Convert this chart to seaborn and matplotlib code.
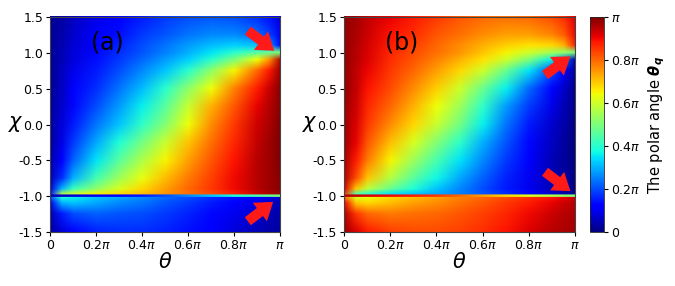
import numpy as np
import matplotlib
matplotlib.use("Agg")
import matplotlib.pyplot as plt
from matplotlib.image import NonUniformImage
import seaborn as sns

# theta in units of pi, chi sample rows, values of theta_q in units of pi
theta = [0, 0.05, 0.1, 0.2, 0.3, 0.4, 0.5, 0.6, 0.7, 0.8, 0.9, 0.95, 1.0]
chi = [1.5, 1.25, 1.1, 1.0, 0.9, 0.75, 0.5, 0.25, 0.0, -0.25, -0.5, -0.75,
       -0.9, -0.975, -0.99, -1.01, -1.025, -1.1, -1.25, -1.5]

theta_q_a = [
    [0.02, 0.035, 0.06, 0.09, 0.12, 0.15, 0.18, 0.20, 0.21, 0.20, 0.17, 0.14, 0.08],
    [0.02, 0.04, 0.07, 0.11, 0.14, 0.18, 0.21, 0.24, 0.26, 0.26, 0.23, 0.19, 0.10],
    [0.02, 0.045, 0.075, 0.12, 0.16, 0.20, 0.24, 0.28, 0.31, 0.33, 0.32, 0.28, 0.12],
    [0.02, 0.05, 0.08, 0.13, 0.17, 0.21, 0.25, 0.30, 0.35, 0.40, 0.45, 0.47, 0.50],
    [0.02, 0.05, 0.085, 0.14, 0.18, 0.23, 0.28, 0.33, 0.40, 0.50, 0.64, 0.75, 0.96],
    [0.02, 0.055, 0.095, 0.15, 0.20, 0.26, 0.32, 0.40, 0.52, 0.65, 0.80, 0.88, 0.98],
    [0.02, 0.06, 0.11, 0.17, 0.24, 0.31, 0.40, 0.52, 0.64, 0.77, 0.88, 0.93, 0.99],
    [0.03, 0.07, 0.13, 0.20, 0.28, 0.36, 0.46, 0.59, 0.72, 0.82, 0.91, 0.95, 0.99],
    [0.03, 0.08, 0.15, 0.24, 0.32, 0.41, 0.51, 0.64, 0.76, 0.85, 0.93, 0.96, 1.00],
    [0.03, 0.09, 0.18, 0.29, 0.39, 0.49, 0.59, 0.70, 0.79, 0.87, 0.94, 0.97, 1.00],
    [0.04, 0.12, 0.22, 0.35, 0.46, 0.56, 0.65, 0.74, 0.82, 0.89, 0.95, 0.97, 1.00],
    [0.05, 0.17, 0.30, 0.43, 0.54, 0.63, 0.71, 0.78, 0.84, 0.90, 0.95, 0.97, 0.99],
    [0.08, 0.30, 0.42, 0.52, 0.61, 0.68, 0.74, 0.80, 0.85, 0.90, 0.95, 0.97, 0.99],
    [0.15, 0.55, 0.60, 0.65, 0.68, 0.71, 0.75, 0.79, 0.83, 0.88, 0.93, 0.96, 0.98],
    [0.05, 0.06, 0.08, 0.10, 0.12, 0.15, 0.20, 0.26, 0.32, 0.38, 0.44, 0.47, 0.50],
    [0.05, 0.06, 0.08, 0.10, 0.12, 0.15, 0.20, 0.26, 0.32, 0.38, 0.44, 0.47, 0.50],
    [0.20, 0.38, 0.36, 0.32, 0.29, 0.26, 0.23, 0.20, 0.17, 0.14, 0.11, 0.09, 0.07],
    [0.10, 0.30, 0.32, 0.29, 0.26, 0.24, 0.21, 0.18, 0.15, 0.12, 0.09, 0.07, 0.05],
    [0.05, 0.15, 0.20, 0.22, 0.21, 0.20, 0.18, 0.16, 0.13, 0.10, 0.07, 0.05, 0.04],
    [0.03, 0.08, 0.12, 0.16, 0.17, 0.17, 0.16, 0.14, 0.11, 0.08, 0.05, 0.04, 0.03],
]

theta_q_b = [
    [0.98, 0.965, 0.94, 0.91, 0.88, 0.85, 0.82, 0.80, 0.79, 0.80, 0.83, 0.86, 0.92],
    [0.98, 0.96, 0.93, 0.89, 0.86, 0.82, 0.79, 0.76, 0.74, 0.74, 0.77, 0.81, 0.90],
    [0.98, 0.955, 0.925, 0.88, 0.84, 0.80, 0.76, 0.72, 0.69, 0.67, 0.68, 0.72, 0.88],
    [0.98, 0.95, 0.92, 0.87, 0.83, 0.79, 0.75, 0.70, 0.65, 0.60, 0.55, 0.53, 0.50],
    [0.98, 0.95, 0.915, 0.86, 0.82, 0.77, 0.72, 0.67, 0.60, 0.50, 0.36, 0.25, 0.04],
    [0.98, 0.945, 0.905, 0.85, 0.80, 0.74, 0.68, 0.60, 0.48, 0.35, 0.20, 0.12, 0.02],
    [0.98, 0.94, 0.89, 0.83, 0.76, 0.69, 0.60, 0.48, 0.36, 0.23, 0.12, 0.07, 0.01],
    [0.97, 0.93, 0.87, 0.80, 0.72, 0.64, 0.54, 0.41, 0.28, 0.18, 0.09, 0.05, 0.01],
    [0.97, 0.92, 0.85, 0.76, 0.68, 0.59, 0.49, 0.36, 0.24, 0.15, 0.07, 0.04, 0.00],
    [0.97, 0.91, 0.82, 0.71, 0.61, 0.51, 0.41, 0.30, 0.21, 0.13, 0.06, 0.03, 0.00],
    [0.96, 0.88, 0.78, 0.65, 0.54, 0.44, 0.35, 0.26, 0.18, 0.11, 0.05, 0.03, 0.00],
    [0.95, 0.83, 0.70, 0.57, 0.46, 0.37, 0.29, 0.22, 0.16, 0.10, 0.05, 0.03, 0.01],
    [0.92, 0.70, 0.58, 0.48, 0.39, 0.32, 0.26, 0.20, 0.15, 0.10, 0.05, 0.03, 0.01],
    [0.85, 0.45, 0.40, 0.35, 0.32, 0.29, 0.25, 0.21, 0.17, 0.12, 0.07, 0.04, 0.02],
    [0.95, 0.94, 0.92, 0.90, 0.88, 0.85, 0.80, 0.74, 0.68, 0.62, 0.56, 0.53, 0.50],
    [0.95, 0.94, 0.92, 0.90, 0.88, 0.85, 0.80, 0.74, 0.68, 0.62, 0.56, 0.53, 0.50],
    [0.80, 0.62, 0.64, 0.68, 0.71, 0.74, 0.77, 0.80, 0.83, 0.86, 0.89, 0.91, 0.93],
    [0.90, 0.70, 0.68, 0.71, 0.74, 0.76, 0.79, 0.82, 0.85, 0.88, 0.91, 0.93, 0.95],
    [0.95, 0.85, 0.80, 0.78, 0.79, 0.80, 0.82, 0.84, 0.87, 0.90, 0.93, 0.95, 0.96],
    [0.97, 0.92, 0.88, 0.84, 0.83, 0.83, 0.84, 0.86, 0.89, 0.92, 0.95, 0.96, 0.97],
]

x_ticks = [0, 0.2, 0.4, 0.6, 0.8, 1.0]
x_labels = ["0", r"0.2$\pi$", r"0.4$\pi$", r"0.6$\pi$", r"0.8$\pi$", r"$\pi$"]
y_ticks = [1.5, 1.0, 0.5, 0.0, -0.5, -1.0, -1.5]
y_labels = ["1.5", "1.0", "0.5", "0.0", "-0.5", "-1.0", "-1.5"]
cb_ticks = [0, 0.2, 0.4, 0.6, 0.8, 1.0]
cb_labels = ["0", r"0.2$\pi$", r"0.4$\pi$", r"0.6$\pi$", r"0.8$\pi$", r"$\pi$"]

sns.set_theme(style="ticks")
plt.rcParams["font.family"] = ["DejaVu Sans"]
plt.rcParams["mathtext.fontset"] = "dejavusans"
plt.rcParams["text.color"] = "black"
plt.rcParams["axes.labelcolor"] = "black"

fig = plt.figure(figsize=(6.75, 2.86), dpi=100)
ax_a = fig.add_axes([50 / 675, 1 - 232 / 286, 230 / 675, 215 / 286])
ax_b = fig.add_axes([344 / 675, 1 - 232 / 286, 231 / 675, 215 / 286])
cax = fig.add_axes([590 / 675, 1 - 232 / 286, 14 / 675, 215 / 286])

# image wants increasing y
chi_up = np.array(chi)[::-1]

panels = [
    (ax_a, theta_q_a, "(a)",
     [((0.86, 1.31), (0.975, 1.03)), ((0.86, -1.35), (0.97, -1.08))]),
    (ax_b, theta_q_b, "(b)",
     [((0.87, 0.69), (0.98, 0.95)), ((0.87, -0.66), (0.98, -0.93))]),
]

for ax, vals, tag, arrows in panels:
    im = NonUniformImage(ax, interpolation="bilinear", cmap="jet",
                         extent=(0, 1, -1.5, 1.5))
    im.set_data(np.array(theta), chi_up, np.array(vals)[::-1])
    im.set_clim(0, 1)
    ax.add_image(im)
    ax.set_xlim(0, 1)
    ax.set_ylim(-1.5, 1.5)
    ax.set_xticks(x_ticks)
    ax.set_xticklabels(x_labels, fontsize=9)
    ax.set_yticks(y_ticks)
    ax.set_yticklabels(y_labels, fontsize=9)
    ax.tick_params(length=3, width=0.8, pad=2, colors="black")
    ax.set_xlabel(r"$\theta$", fontsize=15, labelpad=0)
    ax.set_ylabel(r"$\chi$", fontsize=15, rotation=0, labelpad=2, va="center")
    for sp in ax.spines.values():
        sp.set_linewidth(0.8)
        sp.set_color("#444444")
    ax.text(0.25, 1.14, tag, fontsize=17, ha="center", va="center", color="black")
    for tail, head in arrows:
        ax.annotate("", xy=head, xytext=tail,
                    arrowprops=dict(arrowstyle="simple,head_width=1.4,head_length=1.0,tail_width=0.6",
                                    color="#ff1a1a", lw=0, shrinkA=0, shrinkB=0))

cb = fig.colorbar(im, cax=cax)
cb.set_ticks(cb_ticks)
cb.set_ticklabels(cb_labels, fontsize=9)
cb.ax.tick_params(length=3, width=0.8, pad=2, colors="black")
cb.outline.set_linewidth(0.6)
cb.set_label(r"The polar angle $\mathbfit{\theta}_\mathbfit{q}$", fontsize=10.5, labelpad=4)

fig.savefig("out.png", dpi=100)
